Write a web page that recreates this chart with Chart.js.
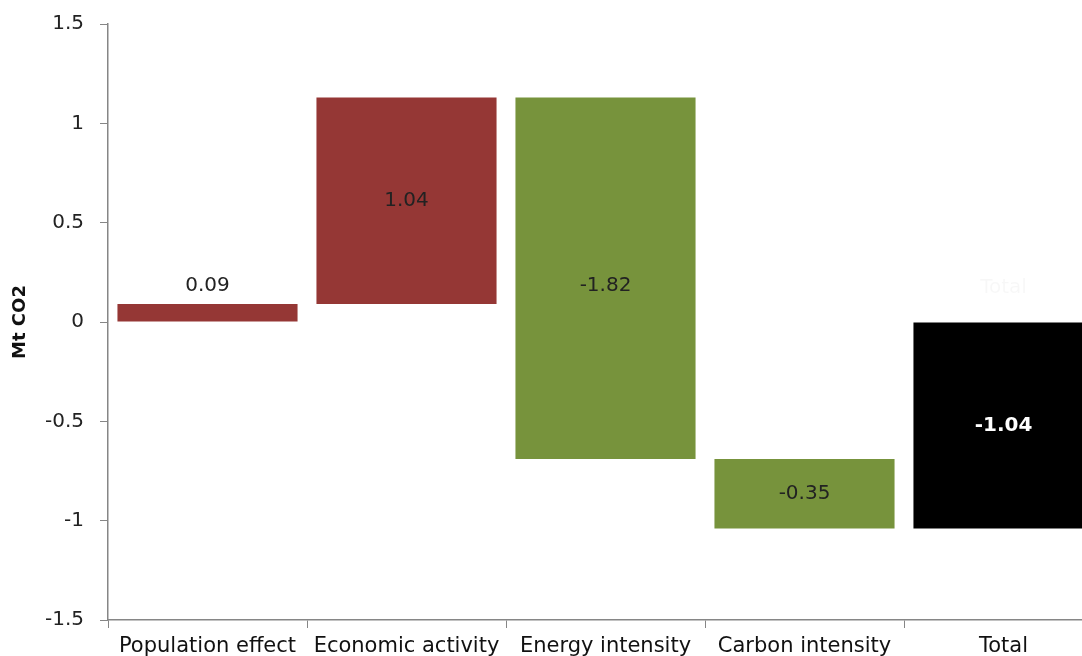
<!DOCTYPE html>
<html>
<head>
<meta charset="utf-8">
<script src="https://cdn.jsdelivr.net/npm/chart.js@4/dist/chart.umd.min.js"></script>
<style>
html,body{margin:0;padding:0;background:#fff;overflow:hidden;}
#wrap{width:1106px;height:660px;margin-top:-4px;}
</style>
</head>
<body>
<div id="wrap"><canvas id="c" width="1106" height="660"></canvas></div>
<script>
const categories = ["Population effect", "Economic activity", "Energy intensity", "Carbon intensity", "Total"];
const changes = [0.09, 1.04, -1.82, -0.35, -1.04];
const isTotal = [false, false, false, false, true];
const barColors = ["#953735", "#953735", "#77933C", "#77933C", "#000000"];
const labelColors = ["#222222", "#222222", "#222222", "#222222", "#ffffff"];
const yTicks = [-1.5, -1, -0.5, 0, 0.5, 1, 1.5];

// waterfall ranges built from the change values
const ranges = [];
let running = 0;
changes.forEach((v, i) => {
  if (isTotal[i]) { ranges.push([0, v]); }
  else { ranges.push([running, running + v]); running += v; }
});

const FONT = "'DejaVu Sans', sans-serif";

const labelPlugin = {
  id: 'barLabels',
  afterDatasetsDraw(chart, args, opts) {
    const ctx = chart.ctx;
    const meta = chart.getDatasetMeta(0);
    meta.data.forEach((bar, i) => {
      const top = Math.min(bar.y, bar.base);
      const bottom = Math.max(bar.y, bar.base);
      const text = changes[i].toFixed(2);
      ctx.save();
      ctx.textAlign = 'center';
      ctx.textBaseline = 'middle';
      ctx.fillStyle = labelColors[i];
      if (bottom - top < 30) {
        ctx.font = "20px " + FONT;
        ctx.fillText(text, bar.x, top - 18);
      } else {
        ctx.font = (isTotal[i] ? "bold " : "") + "20px " + FONT;
        const shift = (opts.shift && opts.shift[i]) || 0;
        ctx.fillText(text, bar.x, (top + bottom) / 2 + shift);
      }
      if (isTotal[i]) {
        ctx.font = "20px " + FONT;
        ctx.fillStyle = "rgba(0,0,0,0.03)";
        ctx.fillText(categories[i], bar.x, top - 35);
      }
      ctx.restore();
    });
  }
};

new Chart(document.getElementById('c'), {
  type: 'bar',
  data: {
    labels: categories,
    datasets: [{
      data: ranges,
      backgroundColor: barColors,
      borderWidth: 0,
      borderSkipped: false,
      barPercentage: 0.905,
      categoryPercentage: 1.0
    }]
  },
  options: {
    responsive: false,
    animation: false,
    devicePixelRatio: 1,
    layout: { padding: { top: 13, right: 3, left: 0, bottom: 0 } },
    plugins: { legend: { display: false }, tooltip: { enabled: false }, barLabels: { shift: { 2: 8 } } },
    scales: {
      x: {
        grid: { display: true, offset: true, drawOnChartArea: false, drawTicks: true, tickLength: 8, color: '#868686' },
        border: { color: '#868686', width: 1.5 },
        ticks: { color: '#111', font: { family: FONT, size: 21 }, padding: 6, maxRotation: 0, autoSkip: false },
        afterFit(scale) { scale.height = 36; }
      },
      y: {
        min: -1.5, max: 1.5,
        afterBuildTicks(scale) { scale.ticks = yTicks.map(v => ({ value: v })); },
        grid: { display: true, drawOnChartArea: false, drawTicks: true, tickLength: 8, color: '#868686' },
        border: { color: '#868686', width: 1.5 },
        ticks: { color: '#222', font: { family: FONT, size: 20 }, padding: 16, callback: v => String(v) },
        title: { display: true, text: 'Mt CO2', color: '#111', font: { family: FONT, size: 18, weight: 'bold' }, padding: { top: 10, bottom: 0 } },
        afterFit(scale) { scale.width = 108; }
      }
    }
  },
  plugins: [labelPlugin]
});
</script>
</body>
</html>
